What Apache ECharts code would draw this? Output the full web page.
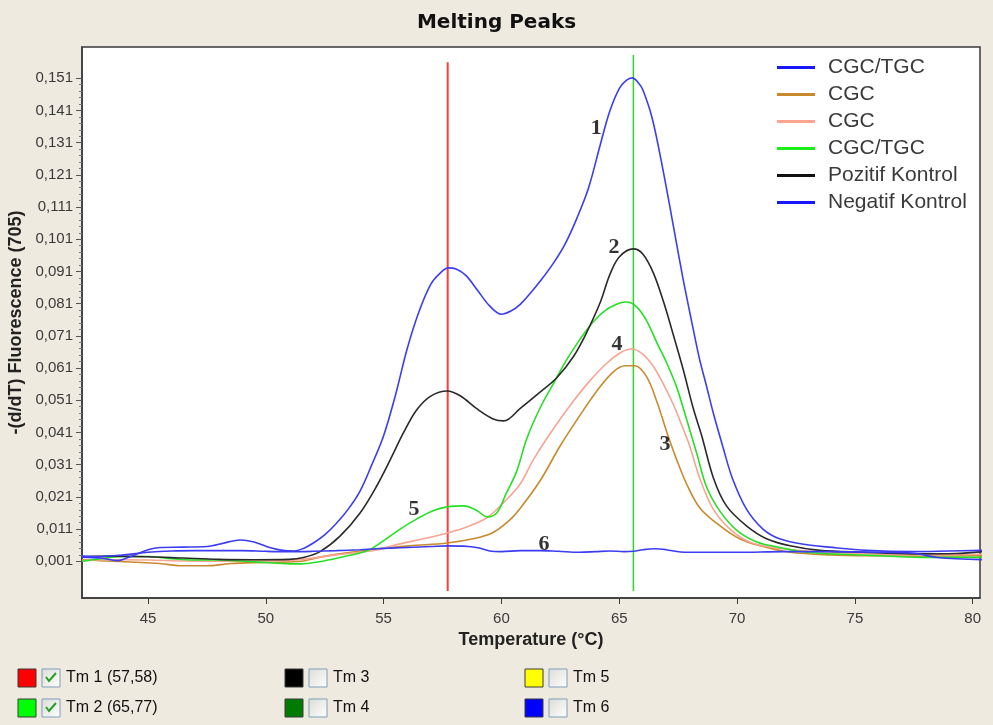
<!DOCTYPE html>
<html><head><meta charset="utf-8">
<script src="https://cdn.jsdelivr.net/npm/echarts@6/dist/echarts.min.js"></script>
<style>html,body{margin:0;padding:0;background:#efeae0;}#c{width:993px;height:725px;}</style>
</head><body><div id="c"></div>
<script>
// ---------- data ----------
const legendLabels = ['CGC/TGC','CGC','CGC','CGC/TGC','Pozitif Kontrol','Negatif Kontrol'];
const seriesColors = ['#3c3cf2','#c98a2e','#f7a592','#26e026','#2a2a2a','#3c3cf2'];
const legendColors = ['#1818ff','#c98a2e','#ffa48e','#18f018','#111111','#1818ff'];

const xTicks = [45,50,55,60,65,70,75,80];
const yTicks = [0.001,0.011,0.021,0.031,0.041,0.051,0.061,0.071,0.081,0.091,0.101,0.111,0.121,0.131,0.141,0.151];

// Curve 1 : CGC/TGC (blue)
const t1 = [42.2,43.0,43.7,44.3,45.0,45.5,46.5,47.5,48.3,48.9,49.5,50.2,50.8,51.2,51.6,52.0,52.5,53.0,53.5,54.0,54.5,55.0,55.5,56.0,56.5,57.0,57.4,57.75,58.1,58.5,59.0,59.5,60.0,60.4,60.8,61.2,61.7,62.2,62.7,63.2,63.7,64.2,64.6,65.0,65.3,65.55,65.8,66.0,66.4,66.85,67.3,67.7,68.1,68.4,68.7,69.0,69.4,69.8,70.4,71.1,71.8,72.9,73.9,75.5,77.5,79.0,80.4];
const v1 = [0.0023,0.0020,0.0012,0.0026,0.0046,0.0053,0.0054,0.0056,0.0068,0.0076,0.0070,0.0052,0.0043,0.0042,0.0050,0.0066,0.0092,0.0128,0.0172,0.0228,0.0310,0.0400,0.0525,0.0670,0.0785,0.0870,0.0905,0.0921,0.0917,0.0897,0.0850,0.0803,0.0777,0.0787,0.0808,0.0840,0.0885,0.0935,0.0995,0.1075,0.1170,0.1305,0.1408,0.1478,0.1503,0.1511,0.1497,0.1474,0.1385,0.1228,0.1050,0.0890,0.0745,0.0640,0.0555,0.0468,0.0365,0.0268,0.0172,0.0110,0.0080,0.0062,0.0054,0.0044,0.0040,0.0042,0.0044];

// Curve 3 : CGC (orange)
const t2 = [42.2,43.5,44.5,45.5,46.5,47.5,48.5,49.5,50.5,51.5,52.3,53.15,54.7,56.1,57.7,58.8,59.6,60.3,60.8,61.64,62.49,63.34,64.05,64.75,65.25,65.67,66.17,66.59,67.02,67.44,67.86,68.43,69.28,70.13,70.98,72.25,73.95,76.07,78.0,80.4];
const v2 = [0.0015,0.0010,0.0007,0.0003,-0.0004,-0.0004,0.0003,0.0006,0.0007,0.0010,0.0023,0.0033,0.0048,0.0058,0.0067,0.0080,0.0098,0.0135,0.0175,0.0260,0.0368,0.0464,0.0539,0.0598,0.0617,0.0617,0.0582,0.0507,0.0411,0.0325,0.0250,0.0175,0.0120,0.0079,0.0058,0.0038,0.0030,0.0027,0.0026,0.0027];

// Curve 4 : CGC (pink)
const t3 = [42.2,43.5,45.0,46.5,48.0,49.5,51.0,52.0,53.0,54.0,54.7,55.7,56.7,57.7,58.5,59.4,60.1,60.8,61.35,62.2,63.05,63.76,64.47,65.03,65.53,66.02,66.45,66.87,67.3,67.72,68.0,68.43,68.99,69.7,70.55,71.53,73.0,75.0,77.5,80.4];
const v3 = [0.0012,0.0015,0.0014,0.0011,0.0010,0.0011,0.0013,0.0020,0.0030,0.0038,0.0045,0.0064,0.0080,0.0098,0.0116,0.0146,0.0193,0.0250,0.0325,0.0421,0.0507,0.0571,0.0625,0.0657,0.0669,0.0652,0.0615,0.0561,0.0496,0.0420,0.0366,0.0265,0.0172,0.0110,0.0069,0.0053,0.0042,0.0034,0.0030,0.0032];

// Curve 5 : CGC/TGC (green)
const t4 = [42.2,43.0,44.0,45.0,46.0,47.0,48.0,49.0,50.0,51.0,51.5,52.2,53.15,54.3,55.0,55.7,56.4,57.1,57.7,58.4,58.95,59.4,59.8,60.2,60.65,61.07,61.64,62.2,62.77,63.34,63.9,64.47,65.03,65.32,65.74,66.17,66.59,67.02,67.44,67.86,68.29,68.71,69.28,69.99,70.84,71.82,72.96,74.66,76.07,78.19,80.4];
const v4 = [0.0010,0.0018,0.0025,0.0025,0.0018,0.0014,0.0014,0.0011,0.0006,0.0002,0.0002,0.0008,0.0022,0.0043,0.0074,0.0110,0.0141,0.0167,0.0179,0.0182,0.0168,0.0148,0.0160,0.0220,0.0290,0.0390,0.0486,0.0561,0.0636,0.0700,0.0754,0.0792,0.0812,0.0815,0.0800,0.0756,0.0690,0.0625,0.0550,0.0450,0.0345,0.0240,0.0165,0.0106,0.0070,0.0053,0.0038,0.0031,0.0027,0.0022,0.0022];

// Curve 2 : Pozitif Kontrol (black)
const t5 = [42.2,43.5,45.0,46.5,48.0,49.5,51.0,51.6,52.3,53.15,54.0,54.7,55.3,55.85,56.4,57.0,57.7,58.25,58.95,59.65,60.1,60.8,61.6,62.35,63.05,63.6,64.2,64.6,65.0,65.6,66.0,66.45,66.87,67.3,67.72,68.14,68.5,69.0,69.55,70.4,71.25,72.25,73.5,75.3,77.5,79.3,80.4];
const v5 = [0.0024,0.0026,0.0024,0.0020,0.0016,0.0015,0.0016,0.0022,0.0040,0.0088,0.0160,0.0243,0.0328,0.0410,0.0480,0.0523,0.0539,0.0524,0.0484,0.0452,0.0446,0.0485,0.0533,0.0580,0.0645,0.0718,0.0815,0.0900,0.0955,0.0980,0.0964,0.0905,0.0818,0.0712,0.0604,0.0485,0.0400,0.0268,0.0182,0.0120,0.0080,0.0058,0.0044,0.0038,0.0033,0.0034,0.0040];

// Curve 6 : Negatif Kontrol (blue)
const t6 = [42.2,43.0,44.0,45.0,46.0,47.0,48.0,49.0,50.0,51.0,52.0,53.0,54.0,55.0,56.0,57.0,57.7,58.4,59.0,59.5,60.0,60.8,61.6,62.4,63.3,64.0,64.6,65.2,65.6,66.0,66.5,67.0,67.6,68.5,70.0,72.0,74.0,76.0,77.5,78.5,80.4];
const v6 = [0.0026,0.0025,0.0030,0.0038,0.0042,0.0043,0.0043,0.0043,0.0041,0.0040,0.0041,0.0043,0.0046,0.0050,0.0053,0.0056,0.0058,0.0057,0.0052,0.0042,0.0040,0.0043,0.0043,0.0041,0.0038,0.0040,0.0042,0.0040,0.0041,0.0046,0.0049,0.0046,0.0039,0.0038,0.0038,0.0040,0.0040,0.0038,0.0035,0.0022,0.0015];

// Tm markers
const tmTemps = [57.72, 65.6];
const tmColors = ['#ff3c3c', '#2bd82b'];
const tmNames = ['Tm 1 (57,58)','Tm 2 (65,77)','Tm 3','Tm 4','Tm 5','Tm 6'];
const tmBoxColors = ['#ff0000','#00ff00','#000000','#007a00','#ffff00','#0000ff'];
const tmChecked = [true,true,false,false,false,false];

// Curve number annotations [temperature, value, text]
const curveLabels = [[64.02,0.1356,'1'],[64.78,0.0984,'2'],[66.94,0.0374,'3'],[64.91,0.0684,'4'],[56.29,0.0172,'5'],[61.81,0.0064,'6']];

// ---------- build ----------
const tempsList = [t1,t2,t3,t4,t5,t6];
const valsList = [v1,v2,v3,v4,v5,v6];
const ids = ['s1','s2','s3','s4','s5','s6'];
const labelMap = {}; ids.forEach((id,i)=>labelMap[id]=legendLabels[i]);

const series = ids.map((id,i)=>({
  name: id, type:'line', smooth:0.35, symbol:'none',
  data: tempsList[i].map((t,k)=>[t, valsList[i][k]]),
  lineStyle:{width:1.6, color:seriesColors[i]},
  itemStyle:{color:legendColors[i]},
  z: 3 + (i===0?3:0)
}));

const yLow = -0.0082;
const yTops = [0.156, 0.1582];
tmTemps.forEach((t,i)=>{
  series.push({type:'line', symbol:'none', silent:true, data:[[t,yLow],[t,yTops[i]]],
    lineStyle:{width: i===0?2:1.5, color:tmColors[i]}, z:2});
});

series.push({type:'scatter', symbol:'circle', symbolSize:2, silent:true, z:10,
  itemStyle:{color:'rgba(0,0,0,0)'},
  data: curveLabels.map(d=>({value:[d[0],d[1]], name:d[2]})),
  label:{show:true, position:'inside', formatter:p=>p.name, color:'#000',
    fontFamily:'Liberation Serif', fontWeight:'bold', fontSize:22}
});

const minorTicks = [];
for (let k=1;k<75;k++){ if (k%5!==0) minorTicks.push(+(0.001 + 0.002*k).toFixed(4)); }

// bottom legend graphics
const graphics = [];
const colX = [18, 285, 525];
const rowY = [678, 708];
tmNames.forEach((n,i)=>{
  const cx = colX[Math.floor(i/2)], cy = rowY[i%2];
  graphics.push({type:'rect', shape:{x:cx, y:cy-9, width:18, height:18},
    style:{fill:tmBoxColors[i], stroke:'#3a3a3a', lineWidth:1}});
  graphics.push({type:'rect', shape:{x:cx+24, y:cy-9, width:18, height:18},
    style:{fill:new echarts.graphic.LinearGradient(0,0,1,1,[{offset:0,color:'#dcdcd6'},{offset:1,color:'#ffffff'}]), stroke:'#7f9db9', lineWidth:1}});
  if (tmChecked[i]) graphics.push({type:'polyline', shape:{points:[[cx+28,cy-1],[cx+31,cy+3],[cx+38,cy-5]]},
    style:{stroke:'#21a121', lineWidth:2, fill:null}});
  graphics.push({type:'text', x:cx+48, y:cy, style:{text:n, fontFamily:'Liberation Sans', fontSize:16, fill:'#111', verticalAlign:'middle'}});
});

const fmt = v => v.toFixed(3).replace('.', ',');

const option = {
  backgroundColor:'#efeae0',
  animation:false,
  title:{text:'Melting Peaks', left:'center', top:8,
    textStyle:{fontFamily:'DejaVu Sans', fontWeight:'bold', fontSize:20, color:'#111'}},
  grid:{left:82, top:47, width:898, height:551, show:true, backgroundColor:'#ffffff', borderColor:'#3a3a3a', borderWidth:1.5,
    containLabel:false, outerBoundsMode:'none'},
  legend:{data:ids, orient:'vertical', left:772, top:52, itemWidth:38, itemHeight:3, itemGap:6,
    icon:'rect',
    formatter:n=>labelMap[n],
    textStyle:{fontFamily:'Liberation Sans', fontSize:21, color:'#3a3a3a', lineHeight:20, padding:[0,0,0,8]}},
  xAxis:{type:'value', min:42.2, max:80.31,
    axisLine:{show:true, onZero:false, lineStyle:{color:'#3a3a3a', width:1.5}},
    axisTick:{show:true, customValues:xTicks, length:6, lineStyle:{color:'#3a3a3a'}},
    axisLabel:{customValues:xTicks, color:'#3a3a3a', fontSize:15, fontFamily:'Liberation Sans', margin:13},
    splitLine:{show:false},
    name:'Temperature (°C)', nameLocation:'middle', nameGap:28,
    nameTextStyle:{fontWeight:'bold', fontSize:18, color:'#222', fontFamily:'Liberation Sans'}},
  yAxis:[{type:'value', min:-0.0104, max:0.1607,
    axisLine:{show:true, onZero:false, lineStyle:{color:'#3a3a3a', width:1.5}},
    axisTick:{show:true, customValues:yTicks, length:6, lineStyle:{color:'#555'}},
    axisLabel:{customValues:yTicks, formatter:fmt, color:'#3a3a3a', fontSize:15, fontFamily:'Liberation Sans', margin:9},
    splitLine:{show:false},
    name:'-(d/dT) Fluorescence (705)', nameLocation:'middle', nameGap:55,
    nameTextStyle:{fontWeight:'bold', fontSize:18, color:'#222', fontFamily:'Liberation Sans'}},
   {type:'value', min:-0.0104, max:0.1607, position:'left', offset:0,
    axisLine:{show:false}, axisLabel:{show:false}, splitLine:{show:false},
    axisTick:{show:true, customValues:minorTicks, length:3, lineStyle:{color:'#777'}}}],
  series: series,
  graphic: graphics
};
const chart = echarts.init(document.getElementById('c'), null, {renderer:'canvas'});
chart.setOption(option);
</script></body></html>
